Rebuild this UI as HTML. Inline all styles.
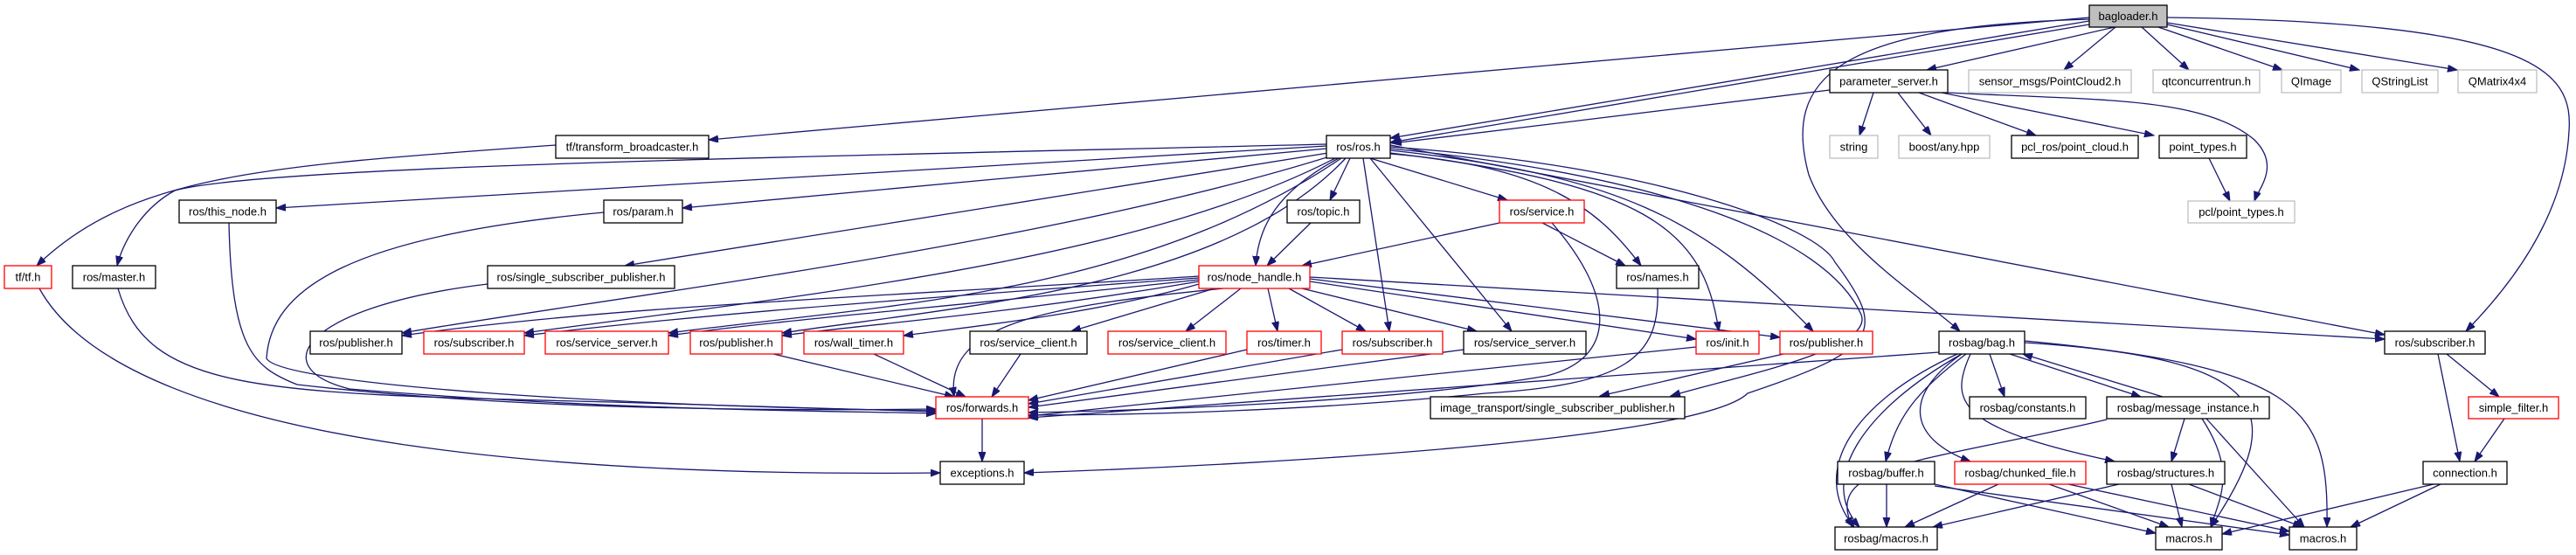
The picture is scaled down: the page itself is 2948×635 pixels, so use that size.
<!DOCTYPE html>
<html><head><meta charset="utf-8"><style>
html,body{margin:0;padding:0;background:#fff;}
svg{display:block;}
text{font-family:"Liberation Sans",Arial,sans-serif;font-size:13px;fill:#000;text-anchor:middle;dominant-baseline:central;}
.e{fill:none;stroke:#191970;stroke-width:1.3;marker-end:url(#a);}
.n{fill:#fff;stroke:#000;stroke-width:1.3;}
.r{fill:#fff;stroke:#ff0000;stroke-width:1.3;}
.g{fill:#fff;stroke:#bfbfbf;stroke-width:1.3;}
</style></head><body>
<svg width="2948" height="635" viewBox="0 0 2948 635" xmlns="http://www.w3.org/2000/svg">
<defs><marker id="a" markerUnits="userSpaceOnUse" markerWidth="12" markerHeight="9" refX="11" refY="4" orient="auto"><path d="M0,0 L11,4 L0,8 z" fill="#191970" stroke="#191970"/></marker></defs>
<g>
<!-- bagloader -->
<path class="e" d="M2391,20 L811,160"/>
<path class="e" d="M2391,24 L1591,158"/>
<path class="e" d="M2391,28 L1591,163"/>
<path class="e" d="M2420,31 L2205,80"/>
<path class="e" d="M2421,31 L2362,80"/>
<path class="e" d="M2451,31 L2505,80"/>
<path class="e" d="M2470,31 L2612,80"/>
<path class="e" d="M2480,28 L2700,80"/>
<path class="e" d="M2480,26 L2812,80"/>
<path class="e" d="M2391,22 C2100,30 2040,90 2070,200 C2100,280 2200,340 2243,379"/>
<path class="e" d="M2480,20 C2900,25 2945,80 2940,150 C2935,250 2870,330 2822,379"/>
<!-- parameter_server -->
<path class="e" d="M2094,103 L1593,164"/>
<path class="e" d="M2144,106 L2128,155"/>
<path class="e" d="M2172,106 L2210,155"/>
<path class="e" d="M2196,106 L2330,155"/>
<path class="e" d="M2222,106 L2465,155"/>
<path class="e" d="M2229,106 C2400,115 2520,110 2580,160 C2610,190 2585,215 2580,230"/>
<path class="e" d="M2528,181 L2552,230"/>
<!-- tf -->
<path class="e" d="M636,166 C300,190 150,200 42,304"/>
<path class="e" d="M45,330 C150,520 700,545 1076,541"/>
<!-- ros.h -->
<path class="e" d="M1518,165 C900,180 300,190 200,218 C160,240 140,280 134,304"/>
<path class="e" d="M1518,167 L316,238"/>
<path class="e" d="M1518,170 L781,238"/>
<path class="e" d="M1520,175 L715,304"/>
<path class="e" d="M1525,178 C1200,280 700,340 460,381"/>
<path class="e" d="M1530,180 C1300,300 900,340 600,381"/>
<path class="e" d="M1535,181 C1300,340 1000,350 765,381"/>
<path class="e" d="M1540,181 C1400,330 1100,350 895,381"/>
<path class="e" d="M1545,181 L1522,229"/>
<path class="e" d="M1532,181 C1460,220 1440,260 1437,304"/>
<path class="e" d="M1568,181 L1725,229"/>
<path class="e" d="M1560,181 L1590,379"/>
<path class="e" d="M1568,181 L1730,379"/>
<path class="e" d="M1591,176 C1770,190 1830,240 1878,304"/>
<path class="e" d="M1591,175 C1880,210 1950,260 1967,379"/>
<path class="e" d="M1591,172 C1850,200 1950,250 2075,379"/>
<path class="e" d="M1591,170 C1900,200 2090,270 2130,360 C2145,400 1990,430 1912,453"/>
<path class="e" d="M1591,168 C1900,190 2080,260 2100,300 C2160,380 2150,400 2000,450 C1950,500 1500,530 1172,541"/>
<path class="e" d="M1591,166 L2729,383"/>
<!-- node_handle -->
<path class="e" d="M1372,316 C1000,340 700,350 460,384"/>
<path class="e" d="M1372,318 C1000,345 800,360 600,384"/>
<path class="e" d="M1372,320 C1100,350 900,365 765,384"/>
<path class="e" d="M1372,322 C1150,360 1000,370 895,384"/>
<path class="e" d="M1372,325 C1250,360 1100,375 1034,384"/>
<path class="e" d="M1390,330 L1226,379"/>
<path class="e" d="M1420,330 L1357,379"/>
<path class="e" d="M1451,330 L1462,379"/>
<path class="e" d="M1475,330 L1563,379"/>
<path class="e" d="M1490,330 L1690,379"/>
<path class="e" d="M1499,322 L1941,388"/>
<path class="e" d="M1499,319 L2037,386"/>
<path class="e" d="M1499,317 L2729,388"/>
<path class="e" d="M1400,330 C1200,350 1080,370 1092,454"/>
<!-- service, topic, names -->
<path class="e" d="M1716,255 L1490,304"/>
<path class="e" d="M1765,255 L1860,304"/>
<path class="e" d="M1776,255 C1850,340 1850,410 1770,430 C1600,460 1300,470 1177,472"/>
<path class="e" d="M1897,330 C1900,410 1860,440 1700,450 C1500,470 1300,475 1177,475"/>
<path class="e" d="M1500,255 L1450,304"/>
<!-- into forwards -->
<path class="e" d="M262,255 C265,400 290,420 340,440 C600,470 900,470 1071,468"/>
<path class="e" d="M691,243 C400,270 310,330 305,410 C320,440 700,465 1071,470"/>
<path class="e" d="M135,330 C170,450 300,450 700,460 C900,465 1000,468 1071,471"/>
<path class="e" d="M558,325 C350,350 300,420 400,445 C700,470 950,470 1071,473"/>
<path class="e" d="M885,405 L1092,454"/>
<path class="e" d="M1000,405 L1105,454"/>
<path class="e" d="M1168,405 L1135,454"/>
<path class="e" d="M1427,400 L1177,458"/>
<path class="e" d="M1536,400 L1177,462"/>
<path class="e" d="M1675,400 L1177,466"/>
<path class="e" d="M1941,397 L1177,476"/>
<path class="e" d="M2219,403 L1177,478"/>
<path class="e" d="M1124,479 L1124,528"/>
<path class="e" d="M2041,405 L1831,453"/>
<!-- rosbag/bag -->
<path class="e" d="M2277,405 L2294,454"/>
<path class="e" d="M2300,405 L2450,454"/>
<path class="e" d="M2475,454 L2315,405"/>
<path class="e" d="M2250,405 C2190,450 2170,480 2158,528"/>
<path class="e" d="M2245,405 C2180,450 2180,500 2255,528"/>
<path class="e" d="M2255,405 C2230,460 2240,490 2420,528"/>
<path class="e" d="M2240,405 C2120,460 2070,540 2122,603"/>
<path class="e" d="M2245,405 C2130,470 2080,550 2128,603"/>
<path class="e" d="M2317,392 C2600,410 2620,470 2530,603"/>
<path class="e" d="M2317,390 C2640,420 2665,470 2663,603"/>
<!-- message_instance -->
<path class="e" d="M2411,480 C2200,530 2085,530 2120,603"/>
<path class="e" d="M2500,479 L2485,528"/>
<path class="e" d="M2520,479 C2560,540 2540,570 2530,603"/>
<path class="e" d="M2525,479 L2637,603"/>
<!-- buffer, chunked, structures -->
<path class="e" d="M2159,554 L2159,603"/>
<path class="e" d="M2214,554 L2467,610"/>
<path class="e" d="M2214,556 L2620,612"/>
<path class="e" d="M2287,554 L2180,603"/>
<path class="e" d="M2345,554 L2482,603"/>
<path class="e" d="M2367,554 L2620,608"/>
<path class="e" d="M2425,554 L2212,603"/>
<path class="e" d="M2485,554 L2497,603"/>
<path class="e" d="M2505,554 L2635,603"/>
<!-- subscriber, simple_filter, connection -->
<path class="e" d="M2800,405 L2860,454"/>
<path class="e" d="M2790,405 L2815,528"/>
<path class="e" d="M2866,479 L2832,528"/>
<path class="e" d="M2785,554 L2543,611"/>
<path class="e" d="M2793,554 L2690,603"/>
</g>
<g>
<rect class="n" x="2391" y="6" width="89" height="25" style="fill:#bfbfbf"/><text x="2435.5" y="18.5">bagloader.h</text>
<rect class="n" x="636" y="155" width="175" height="26"/><text x="723.5" y="168">tf/transform_broadcaster.h</text>
<rect class="n" x="2094" y="80" width="135" height="26"/><text x="2161.5" y="93">parameter_server.h</text>
<rect class="g" x="2253" y="80" width="186" height="26"/><text x="2346" y="93">sensor_msgs/PointCloud2.h</text>
<rect class="g" x="2464" y="80" width="122" height="26"/><text x="2525" y="93">qtconcurrentrun.h</text>
<rect class="g" x="2611" y="80" width="68" height="26"/><text x="2645" y="93">QImage</text>
<rect class="g" x="2703" y="80" width="87" height="26"/><text x="2746.5" y="93">QStringList</text>
<rect class="g" x="2813" y="80" width="90" height="26"/><text x="2858" y="93">QMatrix4x4</text>
<rect class="n" x="1518" y="155" width="73" height="26"/><text x="1554.5" y="168">ros/ros.h</text>
<rect class="g" x="2094" y="155" width="55" height="26"/><text x="2121.5" y="168">string</text>
<rect class="g" x="2173" y="155" width="104" height="26"/><text x="2225" y="168">boost/any.hpp</text>
<rect class="n" x="2302" y="155" width="145" height="26"/><text x="2374.5" y="168">pcl_ros/point_cloud.h</text>
<rect class="n" x="2471" y="155" width="100" height="26"/><text x="2521" y="168">point_types.h</text>
<rect class="n" x="205" y="229" width="111" height="26"/><text x="260.5" y="242">ros/this_node.h</text>
<rect class="n" x="691" y="229" width="90" height="26"/><text x="736" y="242">ros/param.h</text>
<rect class="n" x="1473" y="229" width="83" height="26"/><text x="1514.5" y="242">ros/topic.h</text>
<rect class="r" x="1716" y="229" width="97" height="26"/><text x="1764.5" y="242">ros/service.h</text>
<rect class="g" x="2504" y="230" width="122" height="25"/><text x="2565" y="242.5">pcl/point_types.h</text>
<rect class="r" x="5" y="304" width="54" height="26"/><text x="32" y="317">tf/tf.h</text>
<rect class="n" x="83" y="304" width="95" height="26"/><text x="130.5" y="317">ros/master.h</text>
<rect class="n" x="558" y="304" width="214" height="26"/><text x="665" y="317">ros/single_subscriber_publisher.h</text>
<rect class="r" x="1372" y="304" width="127" height="26"/><text x="1435.5" y="317">ros/node_handle.h</text>
<rect class="n" x="1850" y="304" width="94" height="26"/><text x="1897" y="317">ros/names.h</text>
<rect class="n" x="355" y="379" width="105" height="26"/><text x="407.5" y="392">ros/publisher.h</text>
<rect class="r" x="485" y="379" width="115" height="26"/><text x="542.5" y="392">ros/subscriber.h</text>
<rect class="r" x="624" y="379" width="141" height="26"/><text x="694.5" y="392">ros/service_server.h</text>
<rect class="r" x="790" y="379" width="105" height="26"/><text x="842.5" y="392">ros/publisher.h</text>
<rect class="r" x="920" y="379" width="114" height="26"/><text x="977" y="392">ros/wall_timer.h</text>
<rect class="n" x="1110" y="379" width="134" height="26"/><text x="1177" y="392">ros/service_client.h</text>
<rect class="r" x="1268" y="379" width="135" height="26"/><text x="1335.5" y="392">ros/service_client.h</text>
<rect class="r" x="1427" y="379" width="85" height="26"/><text x="1469.5" y="392">ros/timer.h</text>
<rect class="r" x="1536" y="379" width="115" height="26"/><text x="1593.5" y="392">ros/subscriber.h</text>
<rect class="n" x="1675" y="379" width="140" height="26"/><text x="1745" y="392">ros/service_server.h</text>
<rect class="r" x="1941" y="379" width="72" height="26"/><text x="1977" y="392">ros/init.h</text>
<rect class="r" x="2037" y="379" width="106" height="26"/><text x="2090" y="392">ros/publisher.h</text>
<rect class="n" x="2219" y="379" width="98" height="26"/><text x="2268" y="392">rosbag/bag.h</text>
<rect class="n" x="2729" y="379" width="115" height="26"/><text x="2786.5" y="392">ros/subscriber.h</text>
<rect class="r" x="1071" y="454" width="106" height="25"/><text x="1124" y="466.5">ros/forwards.h</text>
<rect class="n" x="1637" y="454" width="291" height="25"/><text x="1782.5" y="466.5">image_transport/single_subscriber_publisher.h</text>
<rect class="n" x="2254" y="454" width="133" height="25"/><text x="2320.5" y="466.5">rosbag/constants.h</text>
<rect class="n" x="2411" y="454" width="186" height="25"/><text x="2504" y="466.5">rosbag/message_instance.h</text>
<rect class="r" x="2825" y="454" width="103" height="25"/><text x="2876.5" y="466.5">simple_filter.h</text>
<rect class="n" x="1076" y="528" width="96" height="26"/><text x="1124" y="541">exceptions.h</text>
<rect class="n" x="2103" y="528" width="111" height="26"/><text x="2158.5" y="541">rosbag/buffer.h</text>
<rect class="r" x="2237" y="528" width="150" height="26"/><text x="2312" y="541">rosbag/chunked_file.h</text>
<rect class="n" x="2411" y="528" width="135" height="26"/><text x="2478.5" y="541">rosbag/structures.h</text>
<rect class="n" x="2773" y="528" width="96" height="26"/><text x="2821" y="541">connection.h</text>
<rect class="n" x="2100" y="603" width="117" height="26"/><text x="2158.5" y="616">rosbag/macros.h</text>
<rect class="n" x="2467" y="603" width="76" height="26"/><text x="2505" y="616">macros.h</text>
<rect class="n" x="2620" y="603" width="77" height="26"/><text x="2658.5" y="616">macros.h</text>
</g>
</svg>
</body></html>
